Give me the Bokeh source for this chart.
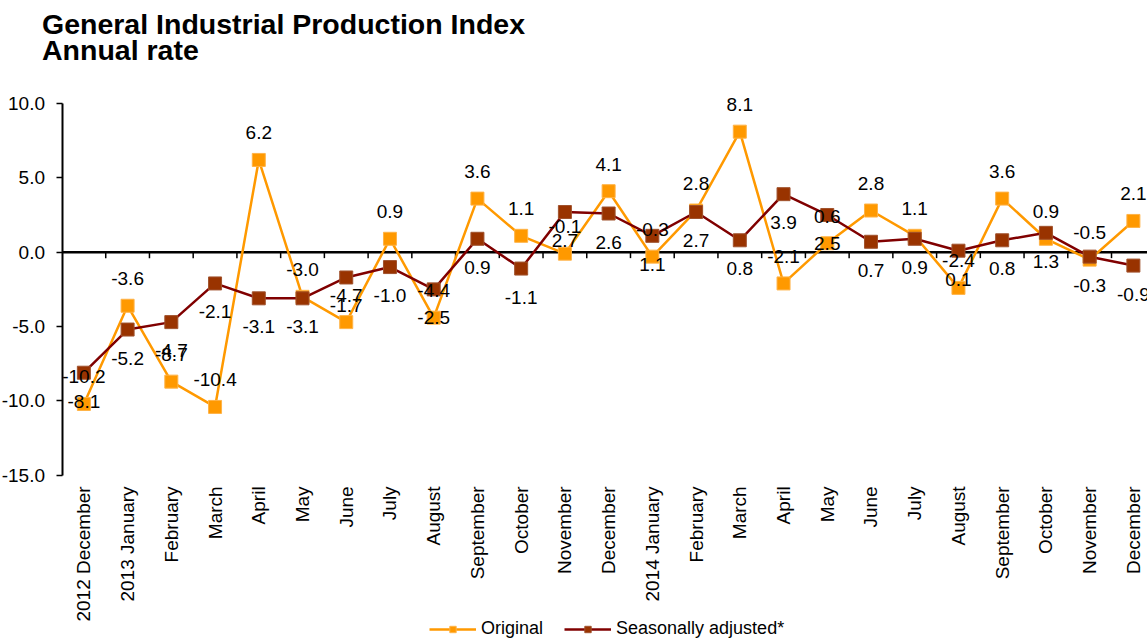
import math
from bokeh.plotting import figure
from bokeh.models import (ColumnDataSource, FixedTicker, Range1d, Label, Legend,
                          LegendItem, LabelSet, NumeralTickFormatter)
from bokeh.core.properties import value
from bokeh.embed import file_html
from bokeh.resources import INLINE

# ---------------- data ----------------
categories = ["2012 December", "2013 January", "February", "March", "April", "May", "June",
              "July", "August", "September", "October", "November", "December",
              "2014 January", "February", "March", "April", "May", "June", "July",
              "August", "September", "October", "November", "December"]
original = [-10.2, -3.6, -8.7, -10.4, 6.2, -3.0, -4.7, 0.9, -4.4, 3.6, 1.1, -0.1, 4.1,
            -0.3, 2.8, 8.1, -2.1, 0.6, 2.8, 1.1, -2.4, 3.6, 0.9, -0.5, 2.1]
seasonal = [-8.1, -5.2, -4.7, -2.1, -3.1, -3.1, -1.7, -1.0, -2.5, 0.9, -1.1, 2.7, 2.6,
            1.1, 2.7, 0.8, 3.9, 2.5, 0.7, 0.9, 0.1, 0.8, 1.3, -0.3, -0.9]
y_ticks = [-15, -10, -5, 0, 5, 10]
title_lines = ["General Industrial Production Index", "Annual rate"]

FONT = "Liberation Sans"
ORANGE = "#FF9900"
BROWN_LINE = "#800000"
BROWN_MARK = "#993300"

W, H = 1147, 639
xs = list(range(len(categories)))
src = ColumnDataSource(dict(
    x=xs, orig=original, seas=seasonal,
    orig_lbl=[f"{v:.1f}" for v in original],
    seas_lbl=[f"{v:.1f}" for v in seasonal],
))

Y_MIN_AXIS, Y_MAX_AXIS = min(y_ticks), max(y_ticks)
X_LEFT = -0.5                      # left edge of first category
X_RIGHT = len(categories) - 0.5    # right edge of last category

# the plotting frame fills the whole canvas; axes are pinned with fixed_location
p = figure(width=W, height=H, output_backend="svg", toolbar_location=None,
           x_range=Range1d(-1.9064, 24.323), y_range=Range1d(-26.03, 16.915),
           min_border_left=0, min_border_right=0, min_border_top=0, min_border_bottom=0)
p.outline_line_color = None
p.xgrid.visible = False
p.ygrid.visible = False
p.background_fill_color = "white"
p.border_fill_color = "white"

# zero line with category boundary ticks
p.segment(x0=[X_LEFT], y0=[0], x1=[X_RIGHT], y1=[0], line_color="black", line_width=2.5,
          level="underlay")
bounds = [i + 0.5 for i in range(len(categories) - 1)]
p.segment(x0=bounds, y0=[0] * len(bounds), x1=bounds, y1=[-0.4] * len(bounds),
          line_color="black", line_width=1.5, level="underlay")

# series
l1 = p.line("x", "orig", source=src, line_color=ORANGE, line_width=2.5)
m1 = p.scatter("x", "orig", source=src, marker="square", size=13,
               fill_color=ORANGE, line_color="#FFB347", line_width=1)
l2 = p.line("x", "seas", source=src, line_color=BROWN_LINE, line_width=2.5)
m2 = p.scatter("x", "seas", source=src, marker="square", size=13,
               fill_color=BROWN_MARK, line_color="#A0522D", line_width=1)

p.add_layout(LabelSet(x="x", y="orig", text="orig_lbl", source=src, y_offset=27,
                      text_align="center", text_baseline="middle",
                      text_font=value(FONT), text_font_size=value("19px"), text_color="black"))
p.add_layout(LabelSet(x="x", y="seas", text="seas_lbl", source=src, y_offset=-28.5,
                      text_align="center", text_baseline="middle",
                      text_font=value(FONT), text_font_size=value("19px"), text_color="black"))

# category axis, fixed at the bottom of the value axis
xa = p.xaxis[0]
xa.fixed_location = Y_MIN_AXIS
xa.ticker = FixedTicker(ticks=xs)
xa.major_label_overrides = {i: c for i, c in zip(xs, categories)}
xa.major_label_orientation = math.pi / 2
xa.axis_line_color = None
xa.major_tick_line_color = None
xa.minor_tick_line_color = None
xa.major_tick_out = 0
xa.major_tick_in = 0
xa.major_label_standoff = 11
xa.major_label_text_font = FONT
xa.major_label_text_font_size = "19px"
xa.major_label_text_color = "black"

# value axis, fixed at the left edge of the categories
ya = p.yaxis[0]
ya.fixed_location = X_LEFT
ya.ticker = FixedTicker(ticks=y_ticks)
ya.bounds = (Y_MIN_AXIS, Y_MAX_AXIS)
ya.formatter = NumeralTickFormatter(format="0.0")
ya.axis_line_color = "black"
ya.axis_line_width = 2
ya.major_tick_line_color = "black"
ya.major_tick_line_width = 1.5
ya.major_tick_out = 6
ya.major_tick_in = 0
ya.minor_tick_line_color = None
ya.major_label_standoff = 11
ya.major_label_text_font = FONT
ya.major_label_text_font_size = "19px"
ya.major_label_text_color = "black"

# two-line title (screen units, measured from the bottom-left of the frame)
for txt, ypos in zip(title_lines, [H - 23.5, H - 49.5]):
    p.add_layout(Label(x=41.5, y=ypos, x_units="screen", y_units="screen", text=txt,
                       text_align="left", text_baseline="middle",
                       text_font=FONT, text_font_size="28.5px", text_font_style="bold",
                       text_color="black"))

# legend
legend = Legend(items=[LegendItem(label="Original", renderers=[l1, m1]),
                       LegendItem(label="Seasonally adjusted*", renderers=[l2, m2])],
                orientation="horizontal", location=(429, 0),
                glyph_width=47, glyph_height=16, label_standoff=5, spacing=21,
                padding=0, margin=0, border_line_alpha=0, background_fill_alpha=0,
                label_text_font=FONT, label_text_font_size="18px", label_text_color="black")
p.add_layout(legend)

open("out.html", "w").write(file_html(p, INLINE))
